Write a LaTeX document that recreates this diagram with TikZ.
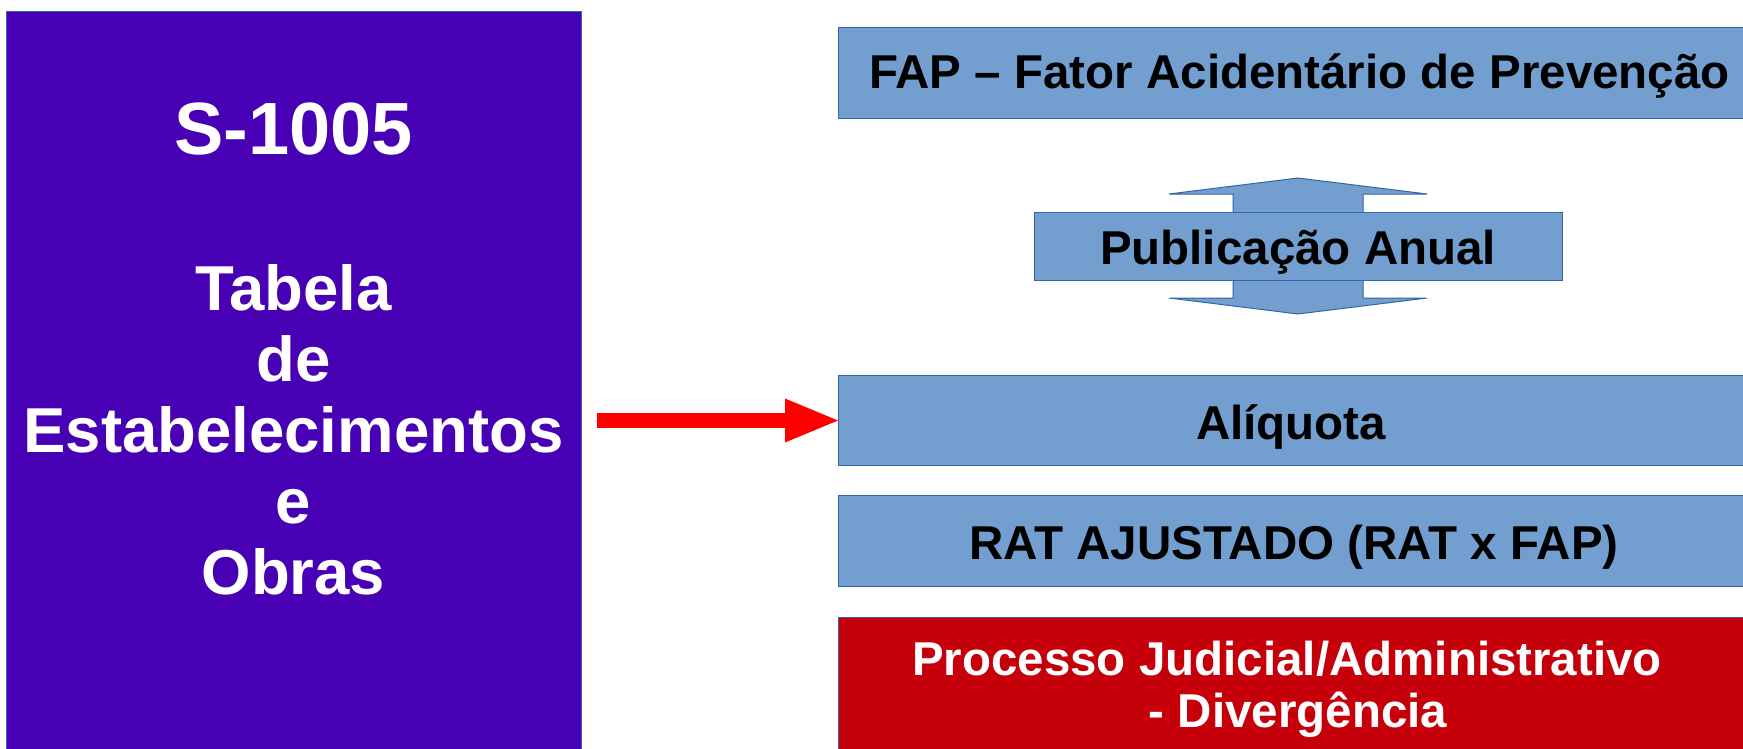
\documentclass[tikz,border=0pt]{standalone}
\usepackage{fontspec}
\setmainfont{Liberation Sans}
\usetikzlibrary{arrows.meta}
\definecolor{boxblue}{RGB}{114,159,207}
\definecolor{edgeblue}{RGB}{52,101,164}
\definecolor{srcpurple}{RGB}{72,0,180}
\definecolor{procred}{RGB}{197,0,11}
\definecolor{arrowred}{RGB}{255,0,0}
\begin{document}
\begin{tikzpicture}[x=1pt,y=-1pt,
  panel/.style={rectangle, draw=edgeblue, line width=1pt, inner sep=0pt, anchor=north west},
  bluepanel/.style={panel, fill=boxblue},
  lbl/.style={anchor=base, inner sep=0pt, text=black, font=\fontsize{47.5}{56}\selectfont\bfseries},
  whitelbl/.style={lbl, text=white},
  biglbl/.style={anchor=base, inner sep=0pt, text=white, font=\fontsize{63.5}{72}\selectfont\bfseries},
  hugelbl/.style={anchor=base, inner sep=0pt, text=white, font=\fontsize{74}{84}\selectfont\bfseries},
  blockarrow/.style={draw=arrowred, line width=15pt,
    -{Triangle[length=53pt,width=44pt,line width=0pt,fill=arrowred]}},
  twoway/.style={draw=edgeblue, fill=boxblue, line width=1pt, line join=miter}
]
\fill[white] (0,0) rectangle (1743,749);
\useasboundingbox (0,0) rectangle (1743,749);

% left source panel
\node[panel, fill=srcpurple, minimum width=575pt, minimum height=760pt] (src) at (6,11) {};
\node[hugelbl] (t0) at (293.5,154) {S-1005};
\node[biglbl] (t1) at (293.5,310) {Tabela};
\node[biglbl] (t2) at (293.5,381) {de};
\node[biglbl] (t3) at (293.5,452) {Estabelecimentos};
\node[biglbl] (t4) at (293.5,523) {e};
\node[biglbl] (t5) at (293.5,594) {Obras};

% right panels
\node[bluepanel, minimum width=922pt, minimum height=91pt] (fap) at (838,27) {};
\node[lbl] (fapt) at (1299.5,89) {FAP – Fator Acidentário de Prevenção};

\coordinate (pubc) at (1298,246);
\begin{scope}[shift={(pubc)}]
  \draw[twoway] (0,-68) -- (129,-52) -- (65,-52) -- (65,52) -- (129,52) -- (0,68)
    -- (-129,52) -- (-65,52) -- (-65,-52) -- (-129,-52) -- cycle;
\end{scope}
\node[bluepanel, anchor=center, minimum width=528pt, minimum height=68pt] (pub) at (pubc) {};
\node[lbl] (pubt) at (1298,264) {Publicação Anual};

\node[bluepanel, minimum width=922pt, minimum height=90pt] (ali) at (838,375) {};
\node[lbl] (alit) at (1291,439) {Alíquota};

\node[bluepanel, minimum width=922pt, minimum height=91pt] (rat) at (838,495) {};
\node[lbl] (ratt) at (1294,559) {RAT AJUSTADO (RAT x FAP)};

\node[panel, fill=procred, minimum width=922pt, minimum height=150pt] (proc) at (838,617) {};
\node[whitelbl] (proct1) at (1287,675) {Processo Judicial/Administrativo};
\node[whitelbl] (proct2) at (1298,727) {- Divergência};

% connector
\draw[blockarrow, shorten <=15pt] (src.east |- ali.west) -- (ali.west);
\end{tikzpicture}
\end{document}
